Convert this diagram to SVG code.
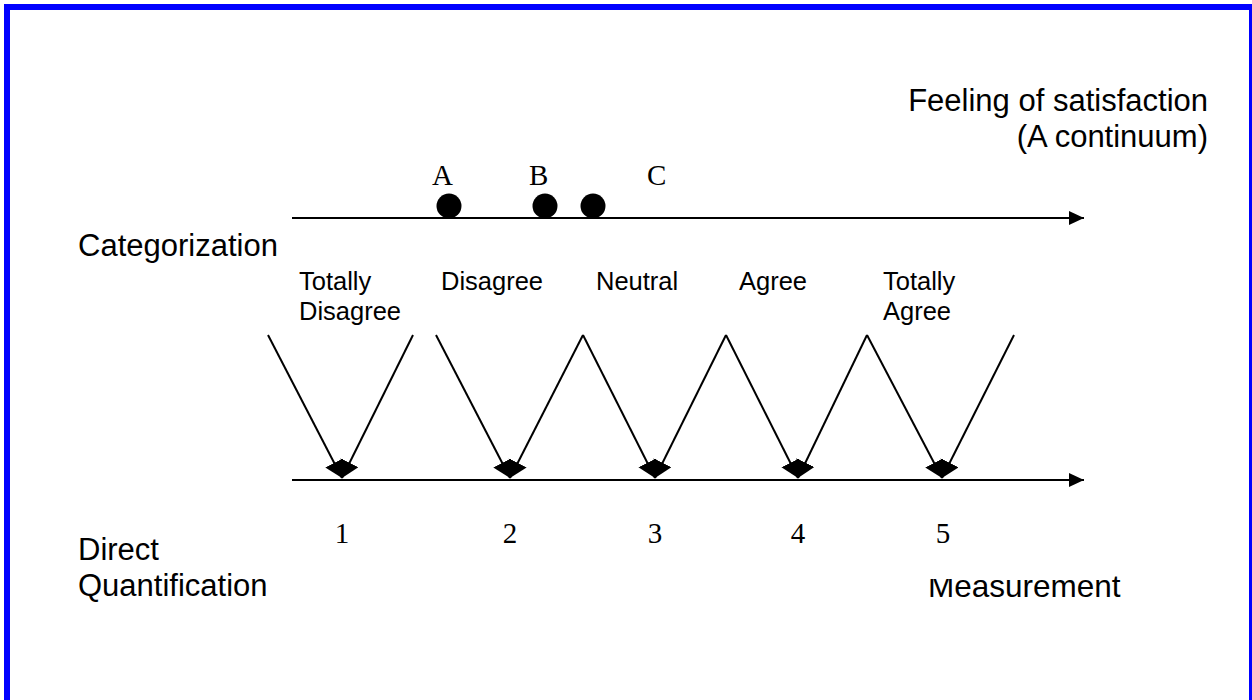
<svg xmlns="http://www.w3.org/2000/svg" width="1252" height="700" viewBox="0 0 1252 700">
<style>
.sans{font-family:"Liberation Sans",Arial,sans-serif;fill:#000}
.big{font-size:31px}
.small{font-size:25.5px}
.serif{font-family:"Liberation Serif","Times New Roman",serif;font-size:29px;fill:#000}
.ln{stroke:#000;stroke-width:2;fill:none}
</style>
<defs>
<marker id="ah" markerUnits="userSpaceOnUse" markerWidth="18" markerHeight="16" refX="15" refY="7" orient="auto">
<path d="M0,0 L15,7 L0,14 z" fill="#000"/>
</marker>
<marker id="vh" markerUnits="userSpaceOnUse" markerWidth="20" markerHeight="22" refX="17" refY="10" orient="auto">
<path d="M0,0 L17,10 L0,20 z" fill="#000"/>
</marker>
</defs>
<rect x="0" y="0" width="1252" height="700" fill="#fff"/>
<rect x="7" y="7" width="1245" height="700" fill="none" stroke="#0000ff" stroke-width="6"/>

<g id="continuum-title">
<text class="sans big" x="1208" y="111" text-anchor="end">Feeling of satisfaction</text>
<text class="sans big" x="1208" y="147" text-anchor="end">(A continuum)</text>
</g>

<g id="points">
<text class="serif" x="432" y="185">A</text>
<text class="serif" x="529" y="185">B</text>
<text class="serif" x="647" y="185">C</text>
<circle cx="449" cy="206" r="12.5" fill="#000"/>
<circle cx="545" cy="206" r="12.5" fill="#000"/>
<circle cx="593" cy="206" r="12.5" fill="#000"/>
</g>

<g id="row-labels">
<text class="sans big" x="78" y="256">Categorization</text>
<text class="sans big" x="78" y="560">Direct</text>
<text class="sans big" x="78" y="596">Quantification</text>
</g>

<g id="categories">
<text class="sans small" x="299" y="290">Totally</text>
<text class="sans small" x="299" y="320">Disagree</text>
<text class="sans small" x="441" y="290">Disagree</text>
<text class="sans small" x="596" y="290">Neutral</text>
<text class="sans small" x="739" y="290">Agree</text>
<text class="sans small" x="883" y="290">Totally</text>
<text class="sans small" x="883" y="320">Agree</text>
</g>

<g id="measurement-label">
<text class="sans big" x="928" y="597" style="font-size:31.5px">Measurement</text>
<rect x="905" y="505" width="60" height="74" fill="#fff"/>
</g>

<g id="numbers">
<text class="serif" x="342" y="543" text-anchor="middle">1</text>
<text class="serif" x="510" y="543" text-anchor="middle">2</text>
<text class="serif" x="655" y="543" text-anchor="middle">3</text>
<text class="serif" x="798" y="543" text-anchor="middle">4</text>
<text class="serif" x="943" y="543" text-anchor="middle">5</text>
</g>

<g id="connectors">
<line class="ln" x1="292" y1="218" x2="1084" y2="218" marker-end="url(#ah)"/>
<line class="ln" x1="292" y1="480" x2="1084" y2="480" marker-end="url(#ah)"/>
<line class="ln" x1="268" y1="335" x2="342" y2="478" marker-end="url(#vh)"/>
<line class="ln" x1="413" y1="335" x2="342" y2="478" marker-end="url(#vh)"/>
<line class="ln" x1="436" y1="335" x2="510" y2="478" marker-end="url(#vh)"/>
<line class="ln" x1="583" y1="335" x2="510" y2="478" marker-end="url(#vh)"/>
<line class="ln" x1="583" y1="335" x2="655" y2="478" marker-end="url(#vh)"/>
<line class="ln" x1="726" y1="335" x2="655" y2="478" marker-end="url(#vh)"/>
<line class="ln" x1="726" y1="335" x2="798" y2="478" marker-end="url(#vh)"/>
<line class="ln" x1="867" y1="335" x2="798" y2="478" marker-end="url(#vh)"/>
<line class="ln" x1="867" y1="335" x2="942" y2="478" marker-end="url(#vh)"/>
<line class="ln" x1="1014" y1="335" x2="942" y2="478" marker-end="url(#vh)"/>
</g>
</svg>
